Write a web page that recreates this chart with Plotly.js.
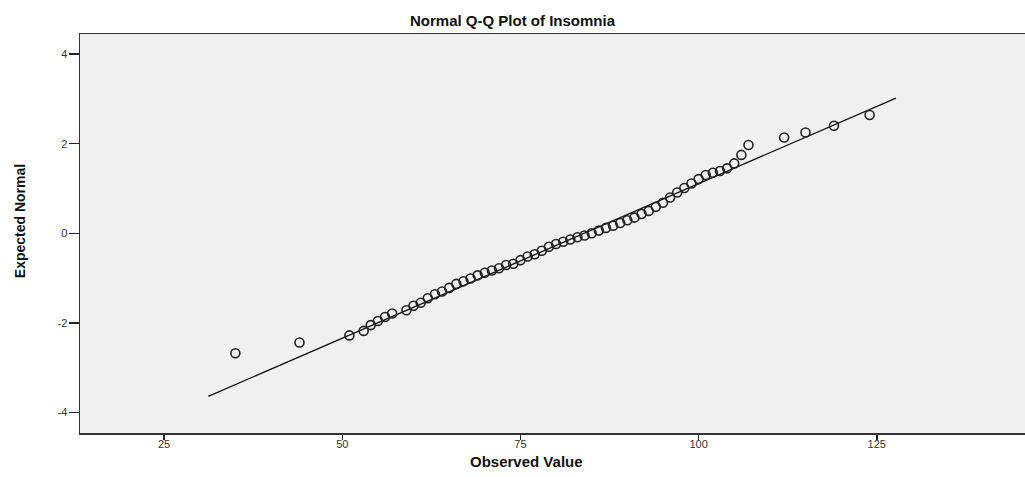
<!DOCTYPE html>
<html>
<head>
<meta charset="utf-8">
<script src="https://cdn.plot.ly/plotly-3.0.1.min.js"></script>
<style>html,body{margin:0;padding:0;background:#fff;}#chart{width:1025px;height:477px;}</style>
</head>
<body>
<div id="chart"></div>
<script>
const observed = [35, 44, 51, 53, 54, 55, 56, 57, 59, 60, 61, 62, 63, 64, 65, 66, 67, 68, 69, 70,
  71, 72, 73, 74, 75, 76, 77, 78, 79, 80, 81, 82, 83, 84, 85, 86, 87, 88, 89, 90,
  91, 92, 93, 94, 95, 96, 97, 98, 99, 100, 101, 102, 103, 104, 105, 106, 107,
  112, 115, 119, 124];
const expected = [-2.68, -2.44, -2.28, -2.18, -2.05, -1.96, -1.87, -1.79, -1.72, -1.62, -1.55, -1.45, -1.36, -1.30, -1.22, -1.13, -1.07, -1.01, -0.94, -0.88,
  -0.83, -0.78, -0.71, -0.68, -0.60, -0.52, -0.47, -0.39, -0.30, -0.24, -0.19, -0.14, -0.09, -0.05, 0.00, 0.06, 0.12, 0.17, 0.23, 0.29,
  0.35, 0.43, 0.50, 0.59, 0.68, 0.80, 0.91, 1.01, 1.11, 1.21, 1.30, 1.35, 1.39, 1.45, 1.56, 1.75, 1.97,
  2.14, 2.25, 2.40, 2.64];
// Reference line end points
const lineX = [31.2, 127.7];
const lineY = [-3.64, 3.02];
// Tick values
const xTicks = [25, 50, 75, 100, 125];
const yTicks = [-4, -2, 0, 2, 4];

const font = "Liberation Sans, Arial, sans-serif";

const traces = [
  {
    x: lineX, y: lineY, type: 'scatter', mode: 'lines',
    line: {color: '#111', width: 1.3}, hoverinfo: 'skip', showlegend: false
  },
  {
    x: observed, y: expected, type: 'scatter', mode: 'markers',
    marker: {symbol: 'circle-open', size: 9, color: '#222', line: {width: 1.6, color: '#222'}},
    showlegend: false
  }
];

const layout = {
  width: 1025, height: 477,
  margin: {l: 80, r: 0, t: 34, b: 44},
  paper_bgcolor: '#ffffff',
  plot_bgcolor: '#f0f0f0',
  showlegend: false,
  title: {
    text: '<b>Normal Q-Q Plot of Insomnia</b>',
    font: {family: font, size: 15, color: '#111'},
    x: 0.5, xref: 'container', y: 1 - 21/477, yref: 'container', yanchor: 'middle'
  },
  xaxis: {
    range: [13.2, 145.8],
    tickvals: xTicks, ticktext: xTicks.map(String),
    ticks: 'outside', ticklen: 5, tickwidth: 1.5, tickcolor: '#222',
    ticklabelstandoff: -5,
    showgrid: false, zeroline: false,
    showline: true, linecolor: '#333', linewidth: 1.5, mirror: true,
    tickfont: {family: font, size: 11, color: '#333'},
    fixedrange: true
  },
  yaxis: {
    range: [-4.46, 4.45],
    tickvals: yTicks, ticktext: yTicks.map(String),
    ticks: 'outside', ticklen: 10, tickwidth: 1.5, tickcolor: '#222',
    ticklabelstandoff: -1,
    showgrid: false, zeroline: false,
    showline: true, linecolor: '#333', linewidth: 1.5, mirror: true,
    tickfont: {family: font, size: 11, color: '#333'},
    fixedrange: true
  },
  annotations: [
    {
      text: '<b>Observed Value</b>', xref: 'x', x: 75.8, yref: 'paper', y: -(461 - 433) / 399,
      xanchor: 'center', yanchor: 'middle', showarrow: false,
      font: {family: font, size: 15, color: '#111'}
    },
    {
      text: '<b>Expected Normal</b>', xref: 'paper', x: -(80 - 20) / 945, yref: 'y', y: 0.27,
      xanchor: 'center', yanchor: 'middle', showarrow: false, textangle: -90,
      font: {family: "Liberation Sans Narrow, Arial Narrow, Liberation Sans, sans-serif", size: 14, color: '#111'}
    }
  ]
};

Plotly.newPlot('chart', traces, layout, {displayModeBar: false, staticPlot: true});
</script>
</body>
</html>
